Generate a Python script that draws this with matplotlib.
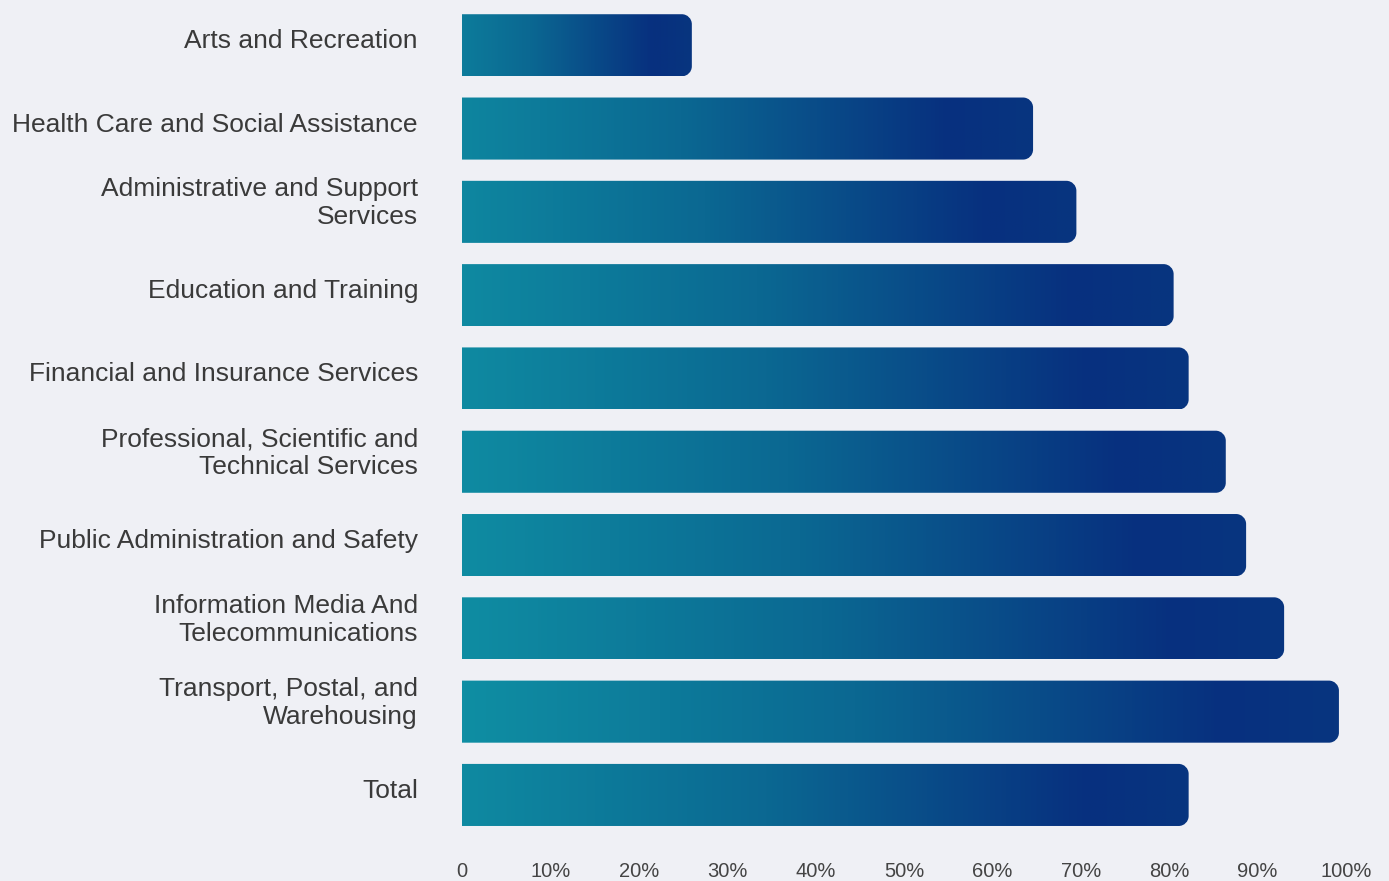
import numpy as np
import matplotlib
matplotlib.use("Agg")
import matplotlib.pyplot as plt
import matplotlib.transforms as mtransforms
from matplotlib.colors import LinearSegmentedColormap
from matplotlib.path import Path
from matplotlib.patches import PathPatch

industries = [
    "Arts and Recreation",
    "Health Care and Social Assistance",
    "Administrative and Support\nServices",
    "Education and Training",
    "Financial and Insurance Services",
    "Professional, Scientific and\nTechnical Services",
    "Public Administration and Safety",
    "Information Media And\nTelecommunications",
    "Transport, Postal, and\nWarehousing",
    "Total",
]
share = [26.0, 64.6, 69.5, 80.5, 82.2, 86.4, 88.7, 93.0, 99.2, 82.2]
tick_vals = [0, 10, 20, 30, 40, 50, 60, 70, 80, 90, 100]
tick_text = ["0"] + [f"{t}%" for t in tick_vals[1:]]

bg = "#eff0f5"
grad = LinearSegmentedColormap.from_list(
    "bar", [(0, "#0f8ea3"), (0.45, "#0b6892"), (0.87, "#07307f"), (1, "#08357f")])

plt.rcParams["font.family"] = ["Liberation Sans", "DejaVu Sans"]

W, H = 1389, 881
fig = plt.figure(figsize=(W / 100, H / 100), dpi=100, facecolor=bg)
left, right, top, bottom = 462, 1346, 3.6, 836.6
ax = fig.add_axes([left / W, 1 - bottom / H, (right - left) / W, (bottom - top) / H])
ax.set_facecolor(bg)

n = len(industries)

# corner radius in data units, x and y separately
px_x = (right - left) / 100
px_y = (bottom - top) / n
rx, ry = 10 / px_x, 10 / px_y
k = 0.5523
bar_h = 0.745

for i, v in enumerate(share):
    y0, y1 = i - bar_h / 2, i + bar_h / 2
    verts = [
        (0, y0), (v - rx, y0),
        (v - rx + k * rx, y0), (v, y0 + ry - k * ry), (v, y0 + ry),
        (v, y1 - ry),
        (v, y1 - ry + k * ry), (v - rx + k * rx, y1), (v - rx, y1),
        (0, y1), (0, y0),
    ]
    codes = [Path.MOVETO, Path.LINETO,
             Path.CURVE4, Path.CURVE4, Path.CURVE4,
             Path.LINETO,
             Path.CURVE4, Path.CURVE4, Path.CURVE4,
             Path.LINETO, Path.CLOSEPOLY]
    patch = PathPatch(Path(verts, codes), transform=ax.transData,
                      facecolor="none", edgecolor="none")
    ax.add_patch(patch)
    # shorter bars start a little further into the gradient
    start = 0.3 * (1 - v / 100)
    g = np.linspace(start, 1, 256).reshape(1, -1)
    im = ax.imshow(g, cmap=grad, vmin=0, vmax=1, aspect="auto",
                   extent=[0, v, y1, y0], interpolation="bilinear")
    im.set_clip_path(patch)

ax.set_xlim(0, 100)
ax.set_ylim(n - 0.5, -0.5)

# category labels, nudged up a little
lab_tr = mtransforms.blended_transform_factory(ax.transAxes, ax.transData)
for i, name in enumerate(industries):
    dy = 8.5 if "\n" in name else 4
    off = mtransforms.ScaledTranslation(0, dy / 100, fig.dpi_scale_trans)
    ax.text(-44 / (right - left), i, name, transform=lab_tr + off,
            ha="right", va="center", fontsize=19, color="#3a3a3a",
            linespacing=1.2, multialignment="right")
ax.set_yticks([])

ax.set_xticks(tick_vals)
ax.set_xticklabels(tick_text, fontsize=14.5, color="#444444")
ax.tick_params(axis="x", length=0, pad=18)
for s in ax.spines.values():
    s.set_visible(False)

fig.savefig("out.png", dpi=100, facecolor=bg)
